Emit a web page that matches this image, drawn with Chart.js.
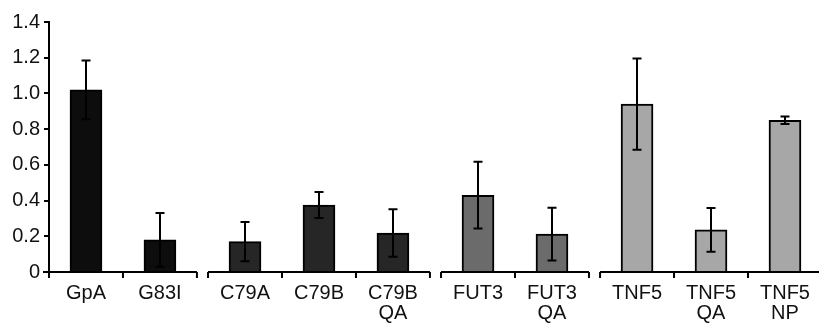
<!DOCTYPE html>
<html>
<head>
<meta charset="utf-8">
<script src="https://cdn.jsdelivr.net/npm/chart.js@4/dist/chart.umd.min.js"></script>
<style>
  html, body { margin: 0; padding: 0; background: #ffffff; }
  #wrap { width: 819px; height: 325px; }
</style>
</head>
<body>
<div id="wrap"><canvas id="c" width="819" height="325"></canvas></div>
<script>
// ---- data ----
const categories = ['GpA', 'G83I', 'C79A', 'C79B', 'C79B\nQA', 'FUT3', 'FUT3\nQA', 'TNF5', 'TNF5\nQA', 'TNF5\nNP'];
const means      = [1.02, 0.18, 0.17, 0.375, 0.218, 0.43, 0.212, 0.94, 0.236, 0.85];
const errors     = [0.165, 0.15, 0.11, 0.073, 0.133, 0.187, 0.148, 0.255, 0.122, 0.021];
const groupSizes = [2, 3, 2, 3];
const yTickValues = [0, 0.2, 0.4, 0.6, 0.8, 1.0, 1.2, 1.4];

// ---- layout / style (not data) ----
const GAP = 0.15;
const groupColors = ['#0d0d0d', '#262626', '#6b6b6b', '#a7a7a7'];

const centers = [];
const groupRanges = [];
const barColors = [];
let pos = 0;
groupSizes.forEach((n, g) => {
  const start = pos;
  for (let i = 0; i < n; i++) { centers.push(pos + 0.5); barColors.push(groupColors[g]); pos += 1; }
  groupRanges.push([start, pos]);
  pos += GAP;
});
const X_MAX = pos - GAP - 0.04;

const errorBars = {
  id: 'errorBars',
  afterDatasetsDraw(chart) {
    const ctx = chart.ctx;
    const meta = chart.getDatasetMeta(0);
    const ys = chart.scales.y;
    ctx.save();
    ctx.strokeStyle = '#000';
    ctx.lineWidth = 2;
    meta.data.forEach((bar, i) => {
      const x = Math.round(bar.x);
      const top = ys.getPixelForValue(means[i] + errors[i]);
      const bot = ys.getPixelForValue(means[i] - errors[i]);
      ctx.beginPath();
      ctx.moveTo(x, top); ctx.lineTo(x, bot);
      ctx.moveTo(x - 4.5, top); ctx.lineTo(x + 4.5, top);
      ctx.moveTo(x - 4.5, bot); ctx.lineTo(x + 4.5, bot);
      ctx.stroke();
    });
    ctx.restore();
  }
};

const brokenAxis = {
  id: 'brokenAxis',
  afterDraw(chart) {
    const ctx = chart.ctx;
    const xs = chart.scales.x, ys = chart.scales.y;
    const y0 = ys.getPixelForValue(0);
    ctx.save();
    ctx.strokeStyle = '#000';
    ctx.lineWidth = 2;
    groupRanges.forEach(([s, e]) => {
      const xe = Math.min(e, X_MAX);
      ctx.beginPath();
      ctx.moveTo(xs.getPixelForValue(s) - (s === 0 ? 6 : 0), y0);
      ctx.lineTo(xs.getPixelForValue(xe), y0);
      for (let b = s; b <= e + 1e-9; b += 1) {
        if (b > X_MAX) break;
        const px = xs.getPixelForValue(b);
        ctx.moveTo(px, y0);
        ctx.lineTo(px, y0 + 6);
      }
      ctx.stroke();
    });
    ctx.restore();
  }
};

Chart.defaults.font.family = '"Liberation Sans", Arial, sans-serif';
Chart.defaults.font.size = 20;
Chart.defaults.color = '#111';

new Chart(document.getElementById('c'), {
  type: 'bar',
  data: {
    datasets: [{
      data: means.map((v, i) => ({ x: centers[i], y: v })),
      backgroundColor: barColors,
      borderColor: '#000',
      borderWidth: 2,
      barThickness: 32
    }]
  },
  options: {
    responsive: false,
    animation: false,
    devicePixelRatio: 1,
    layout: { padding: { top: 22, right: 0, left: 0, bottom: 0 } },
    plugins: { legend: { display: false }, tooltip: { enabled: false } },
    scales: {
      x: {
        type: 'linear',
        offset: false,
        min: 0,
        max: X_MAX,
        grid: { display: false, drawTicks: false, offset: false },
        border: { display: false },
        afterBuildTicks: (s) => { s.ticks = centers.map(v => ({ value: v })); },
        afterFit: (s) => { s.height = 53; s.paddingLeft = 0; s.paddingRight = 0; },
        ticks: {
          autoSkip: false,
          maxRotation: 0,
          padding: 11,
          font: { size: 20, lineHeight: 1.0 },
          callback: (v, i) => categories[i].split('\n')
        }
      },
      y: {
        min: 0,
        max: 1.4,
        afterBuildTicks: (s) => { s.ticks = yTickValues.map(v => ({ value: v })); },
        afterFit: (s) => { s.width = 49; },
        border: { display: true, color: '#000', width: 2 },
        grid: { display: true, drawOnChartArea: false, drawTicks: true, tickLength: 5, color: '#000', lineWidth: 2 },
        ticks: {
          padding: 4,
          font: { size: 20 },
          callback: (v) => (v === 0 ? '0' : v.toFixed(1))
        }
      }
    }
  },
  plugins: [errorBars, brokenAxis]
});
</script>
</body>
</html>
